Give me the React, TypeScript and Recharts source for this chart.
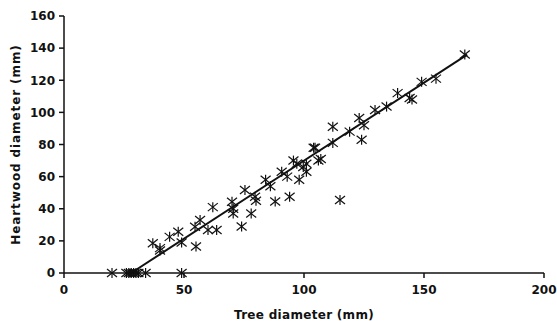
import { ScatterChart, Scatter, XAxis, YAxis, ReferenceLine } from 'recharts'

// tree diameter (mm) vs heartwood diameter (mm)
const treeDiameter = [
  20, 26, 27, 28, 29, 30, 31, 34, 49,
  37, 40, 40, 44, 47.6, 49, 55, 54.6, 56.7, 60, 62, 63.6,
  70, 70.5, 70.5, 74, 75.4, 78, 79.6, 80, 84, 86, 88, 90.7, 93, 94,
  95.6, 97, 98, 99.7, 101, 101, 104, 104.6, 106, 107, 112, 112, 115,
  119, 123, 124, 125, 129.6, 134.4, 139, 144, 145, 149, 155, 167,
]
const heartwoodDiameter = [
  0, 0, 0, 0, 0, 0, 0, 0, 0,
  18.5, 15.5, 14, 22.5, 25.7, 19, 16.5, 28.8, 33, 26.8, 41, 26.8,
  44.4, 40, 37, 29, 51.7, 37, 47.5, 45, 58, 54, 44.5, 63, 60, 47.5,
  70, 68, 58, 66, 63, 68, 78, 78, 70, 71, 91, 81, 45.5,
  88, 96.5, 83, 92, 101.5, 103.6, 112, 109, 108, 119, 121, 136,
]
const xTicks = [0, 50, 100, 150, 200]
const yTicks = [0, 20, 40, 60, 80, 100, 120, 140, 160]
const fitStart = { x: 28, y: 0 }
const fitEnd = { x: 168, y: 136 }

const points = treeDiameter.map((x, i) => ({ x, y: heartwoodDiameter[i] }))

const tickStyle = { fontSize: 12, fontWeight: 700, fill: '#111', fontFamily: 'DejaVu Sans' }

function Asterisk(props: any) {
  const { cx, cy } = props
  const r = 5
  return (
    <g stroke="#111" strokeWidth={1.2}>
      <line x1={cx} y1={cy - r} x2={cx} y2={cy + r} />
      <line x1={cx - r} y1={cy - r * 0.8} x2={cx + r} y2={cy + r * 0.8} />
      <line x1={cx - r} y1={cy + r * 0.8} x2={cx + r} y2={cy - r * 0.8} />
    </g>
  )
}

export default function App() {
  return (
    <div style={{ width: 557, height: 321, background: '#fff' }}>
      <style>{`body{margin:0}`}</style>
      <ScatterChart width={557} height={321} margin={{ top: 16, right: 13, left: 0, bottom: 2 }}>
        <XAxis
          type="number"
          dataKey="x"
          domain={[0, 200]}
          ticks={xTicks}
          tick={tickStyle}
          tickSize={5}
          tickMargin={7}
          height={46}
          stroke="#111"
          strokeWidth={1.5}
          label={{
            value: 'Tree diameter (mm)',
            position: 'insideBottom',
            offset: 0,
            style: { ...tickStyle, letterSpacing: 0.3 },
          }}
        />
        <YAxis
          type="number"
          dataKey="y"
          domain={[0, 160]}
          ticks={yTicks}
          tick={tickStyle}
          tickSize={5}
          tickMargin={4}
          width={64}
          stroke="#111"
          strokeWidth={1.5}
          label={{
            value: 'Heartwood diameter (mm)',
            angle: -90,
            position: 'insideLeft',
            offset: 16,
            style: { ...tickStyle, textAnchor: 'middle', letterSpacing: 0.9 },
          }}
        />
        <ReferenceLine
          segment={[fitStart, fitEnd]}
          stroke="#111"
          strokeWidth={2}
          ifOverflow="visible"
        />
        <Scatter data={points} shape={<Asterisk />} isAnimationActive={false} />
      </ScatterChart>
    </div>
  )
}
